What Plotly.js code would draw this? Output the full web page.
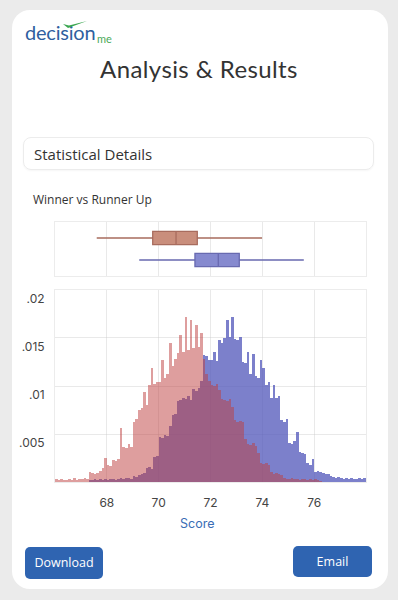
<!DOCTYPE html>
<html>
<head>
<meta charset="utf-8">
<script src="https://cdn.plot.ly/plotly-3.0.1.min.js"></script>
<style>
  html, body { margin:0; padding:0; }
  body { width:398px; height:600px; background:#ebebeb; position:relative; overflow:hidden; font-family:'Open Sans', 'Lato', sans-serif; color:#333; }
  .card { position:absolute; left:12px; top:10px; width:376px; height:579px; background:#fff; border-radius:18px; }
  .logo { position:absolute; left:25px; top:20px; height:28px; width:100px; }
  .logo .word { position:absolute; left:0; top:0; font-family:'Lato', sans-serif; font-size:20px; color:#2f5f9f; letter-spacing:-0.2px; }
  .logo .me { position:absolute; left:72px; top:12px; font-family:'Lato', sans-serif; font-size:11px; color:#4caa5a; }
  .logo svg { position:absolute; left:0; top:0; }
  .title { position:absolute; left:0; width:398px; top:54px; text-align:center; font-size:24px; color:#333; font-family:'Lato', sans-serif; letter-spacing:0.4px; }
  .details { position:absolute; left:23px; top:137px; width:349px; height:31px; border:1px solid #ececec; border-radius:8px; box-shadow:0 1px 2px rgba(0,0,0,0.04); }
  .details span { position:absolute; left:10px; top:6px; font-size:15px; color:#333; }
  .sub { position:absolute; left:33px; top:191px; font-size:12px; color:#333; }
  .btn { position:absolute; background:#2f64b1; color:#fff; border-radius:5px; font-size:12.5px; text-align:center; }
  #chart { position:absolute; left:12px; top:212px; width:361px; height:330px; }
</style>
</head>
<body>
<div class="card"></div>
<div class="logo">
  <span class="word">decision</span>
  <span class="me">me</span>
  <svg width="100" height="28"><path d="M38 4 L43 8 L62 1 L44 5.5 Z" fill="#3aa650"/></svg>
</div>
<div class="title">Analysis &amp; Results</div>
<div class="details"><span>Statistical Details</span></div>
<div class="sub">Winner vs Runner Up</div>
<div id="chart"></div>
<div class="btn" style="left:25px;top:547px;width:78px;height:32px;line-height:32px;">Download</div>
<div class="btn" style="left:293px;top:546px;width:79px;height:31px;line-height:31px;">Email</div>
<script>
// Histogram bins (score axis)
const binStart = 66;
const binWidth = 0.1;

// Winner (salmon) density per bin, 66.0 .. 78.0
const winnerDensity = [
  0.0003,0.0002,0.0003,0.0002,0.0002,0.0003,0.0002,0.0004,0.0002,0.0003,
  0.0003,0.0004,0.0003,0.0010,0.0009,0.0008,0.0009,0.0011,0.0015,0.0025,
  0.0018,0.0017,0.0023,0.0022,0.0024,0.0056,0.0036,0.0035,0.0040,0.0036,
  0.0062,0.0066,0.0075,0.0077,0.0094,0.0080,0.0101,0.0119,0.0102,0.0104,
  0.0104,0.0127,0.0108,0.0112,0.0145,0.0121,0.0128,0.0134,0.0153,0.0135,
  0.0172,0.0138,0.0169,0.0140,0.0164,0.0141,0.0155,0.0128,0.0112,0.0105,
  0.0101,0.0100,0.0102,0.0096,0.0086,0.0085,0.0084,0.0086,0.0078,0.0065,
  0.0063,0.0064,0.0062,0.0045,0.0040,0.0039,0.0041,0.0038,0.0030,0.0020,
  0.0019,0.0020,0.0018,0.0010,0.0008,0.0009,0.0008,0.0007,0.0004,0.0003,
  0.0003,0.0004,0.0003,0.0003,0.0002,0.0003,0.0003,0.0002,0.0003,0.0002,
  0.0003,0.0002,0.0001,0,0,0,0,0,0,0,
  0,0,0,0,0,0,0,0,0,0
];

// Runner Up (blue) density per bin, 66.0 .. 78.0
const runnerUpDensity = [
  0,0,0,0,0,0,0,0,0,0,
  0,0,0,0.0002,0.0002,0.0003,0.0002,0.0003,0.0002,0.0003,
  0.0002,0.0003,0.0003,0.0002,0.0003,0.0004,0.0003,0.0004,0.0004,0.0003,
  0.0006,0.0005,0.0007,0.0008,0.0009,0.0015,0.0016,0.0014,0.0026,0.0027,
  0.0047,0.0046,0.0049,0.0048,0.0058,0.0070,0.0071,0.0084,0.0085,0.0087,
  0.0086,0.0090,0.0085,0.0097,0.0095,0.0098,0.0105,0.0132,0.0131,0.0127,
  0.0127,0.0135,0.0126,0.0148,0.0145,0.0150,0.0169,0.0151,0.0172,0.0149,
  0.0148,0.0151,0.0125,0.0124,0.0135,0.0112,0.0133,0.0110,0.0108,0.0127,
  0.0119,0.0101,0.0104,0.0088,0.0101,0.0087,0.0090,0.0065,0.0063,0.0066,
  0.0041,0.0040,0.0043,0.0052,0.0031,0.0030,0.0029,0.0020,0.0018,0.0024,
  0.0010,0.0011,0.0010,0.0009,0.0008,0.0008,0.0006,0.0005,0.0004,0.0005,
  0.0004,0.0003,0.0004,0.0003,0.0004,0.0003,0.0003,0.0004,0.0003,0.0004
];

// Box plot summary: [Winner, Runner Up]
const boxPositions = [1, 0];
const boxLowerFence = [67.61, 69.25];
const boxQ1 = [69.77, 71.40];
const boxMedian = [70.67, 72.30];
const boxQ3 = [71.49, 73.11];
const boxUpperFence = [73.99, 75.60];

const scoreTicks = [68, 70, 72, 74, 76];
const densityTicks = [0.005, 0.01, 0.015, 0.02];
const densityTickText = ['.005', '.01', '.015', '.02'];

const binCenters = winnerDensity.map((_, i) => +(binStart + binWidth * (i + 0.5)).toFixed(3));

const boxFill = ['rgb(201,142,124)', 'rgb(134,138,207)'];
const boxLine = ['rgb(168,108,94)', 'rgb(104,106,176)'];

const traces = [
  { type:'bar', x:binCenters, y:runnerUpDensity, width:binWidth,
    marker:{ color:'rgba(80,86,186,0.75)', line:{width:0} }, xaxis:'x', yaxis:'y', hoverinfo:'skip' },
  { type:'bar', x:binCenters, y:winnerDensity, width:binWidth,
    marker:{ color:'rgba(189,61,62,0.5)', line:{width:0} }, xaxis:'x', yaxis:'y', hoverinfo:'skip' }
];
for (let i = 0; i < boxPositions.length; i++) {
  traces.push({
    type:'box', orientation:'h', y:[boxPositions[i]],
    q1:[boxQ1[i]], median:[boxMedian[i]], q3:[boxQ3[i]],
    lowerfence:[boxLowerFence[i]], upperfence:[boxUpperFence[i]],
    width:0.61, whiskerwidth:0, boxpoints:false,
    fillcolor:boxFill[i], line:{ color:boxLine[i], width:1.3 },
    xaxis:'x2', yaxis:'y2', hoverinfo:'skip'
  });
}

const gridC = 'rgba(200,200,200,0.4)';
const lineC = '#ececec';
const tickFont = { family:'Inter, Roboto, sans-serif', size:12, color:'#444' };

const layout = {
  width:361, height:330,
  margin:{ l:43, r:7, t:10, b:60 },
  paper_bgcolor:'rgba(0,0,0,0)', plot_bgcolor:'#fff',
  showlegend:false, barmode:'overlay', bargap:0,
  xaxis:{ range:[66,78], anchor:'y', tickvals:scoreTicks, ticks:'', showgrid:true, gridcolor:gridC,
          showline:true, mirror:true, linecolor:lineC, zeroline:false, layer:'above traces',
          tickfont:tickFont, ticklabelstandoff:10, fixedrange:true },
  yaxis:{ domain:[0,0.7385], range:[0,0.02], tickvals:densityTicks, ticktext:densityTickText, ticks:'',
          showgrid:true, gridcolor:gridC, showline:true, mirror:true, linecolor:lineC, zeroline:false,
          layer:'above traces', tickfont:tickFont, ticklabelposition:'outside bottom', ticklabelstandoff:7, fixedrange:true },
  xaxis2:{ anchor:'y2', matches:'x', range:[66,78], tickvals:scoreTicks, showticklabels:false, ticks:'',
           showgrid:true, gridcolor:gridC, showline:true, mirror:true, linecolor:lineC, zeroline:false, fixedrange:true },
  yaxis2:{ domain:[0.7923,1], range:[-0.727,1.727], showticklabels:false, ticks:'', showgrid:false,
           showline:true, mirror:true, linecolor:lineC, zeroline:false, fixedrange:true },
  annotations:[{ text:'Score', xref:'paper', yref:'paper', x:0.4566, y:-0.158, xanchor:'center', yanchor:'middle',
                 showarrow:false, font:{ family:'Inter, Roboto, sans-serif', size:12.5, color:'#3a6db5' } }]
};

Plotly.newPlot('chart', traces, layout, { staticPlot:true, displayModeBar:false });
</script>
</body>
</html>
